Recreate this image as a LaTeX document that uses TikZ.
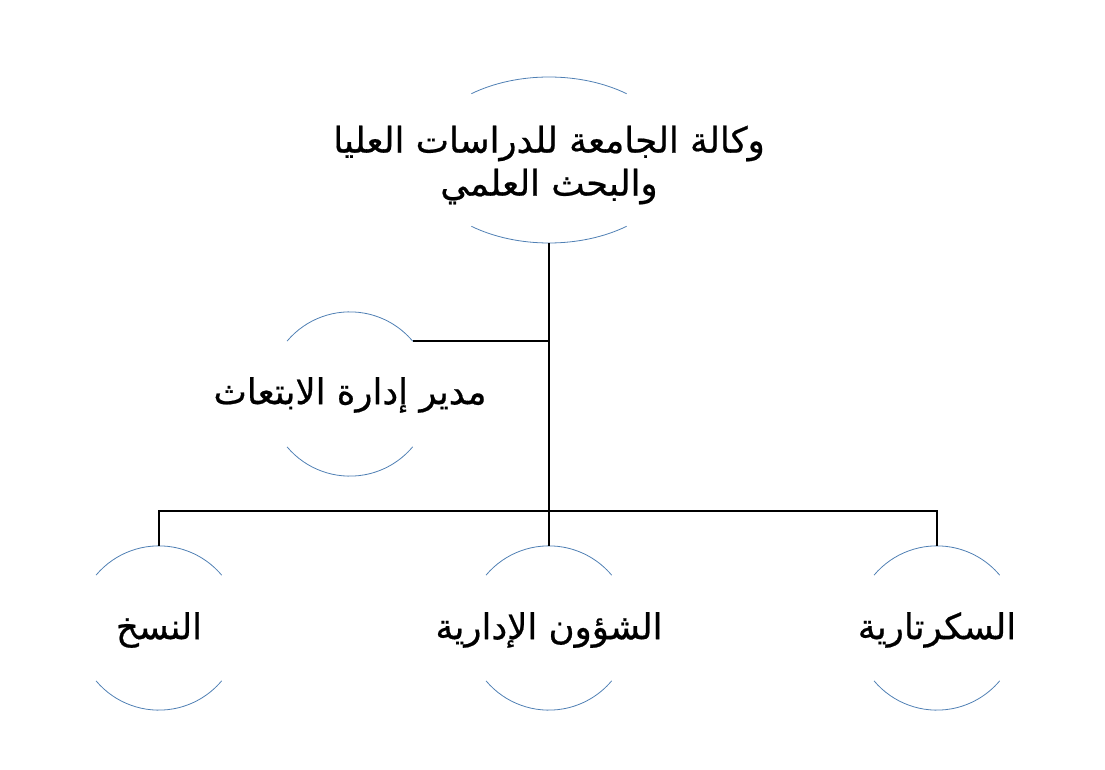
\documentclass[tikz,border=0pt]{standalone}
\usepackage{fontspec}
\newfontfamily\arabicfont[Script=Arabic,FakeBold=0.6]{DejaVu Sans}
\TeXXeTstate=1
\usetikzlibrary{shapes.geometric}
\definecolor{arcblue}{RGB}{80,128,180}
\tikzset{
  circnode/.style={circle, minimum size=164pt, inner sep=0pt, draw=none},
  ellnode/.style={ellipse, minimum width=258pt, minimum height=166pt, inner sep=0pt, draw=none},
  txt/.style={font=\arabicfont\fontsize{35.5}{43}\selectfont, align=center, inner sep=0pt},
  arcst/.style={draw=arcblue, line width=0.8pt},
  conn/.style={draw=black, line width=2pt}
}
\begin{document}
\begin{tikzpicture}[x=1pt,y=1pt]
\useasboundingbox (0,0) rectangle (1105,769);
% shapes
\node[ellnode] (top) at (549,609) {};
\node[circnode] (dir) at (350,375) {};
\node[circnode] (left) at (159,141) {};
\node[circnode] (mid) at (549,141) {};
\node[circnode] (right) at (937,141) {};
% arcs
\draw[arcst] ([shift={(127:129pt and 83pt)}]top.center) arc[start angle=127, end angle=53, x radius=129pt, y radius=83pt];
\draw[arcst] ([shift={(233:129pt and 83pt)}]top.center) arc[start angle=233, end angle=307, x radius=129pt, y radius=83pt];
\foreach \n in {dir,left,mid,right}{
  \draw[arcst] (\n.140) arc[start angle=140, end angle=40, radius=82pt];
  \draw[arcst] (\n.220) arc[start angle=220, end angle=320, radius=82pt];
}
% texts
\node[txt] (toptxt) at (549,604) {\beginR وكالة الجامعة للدراسات العليا\endR\\\beginR والبحث العلمي\endR};
\node[txt] (dirtxt) at (350,374) {\beginR مدير إدارة الابتعاث\endR};
\node[txt] (lefttxt) at (159,139) {\beginR النسخ\endR};
\node[txt] (midtxt) at (549,139) {\beginR الشؤون الإدارية\endR};
\node[txt] (righttxt) at (937,139) {\beginR السكرتارية\endR};
% connectors
\coordinate (bus) at (549,258);
\draw[conn] (top.south) -- (mid.north);
\draw[conn] (dir.40) -- (dir.40 -| top.south);
\draw[conn] (left.north) -- (left.north |- bus) -- (right.north |- bus) -- (right.north);
\end{tikzpicture}
\end{document}
